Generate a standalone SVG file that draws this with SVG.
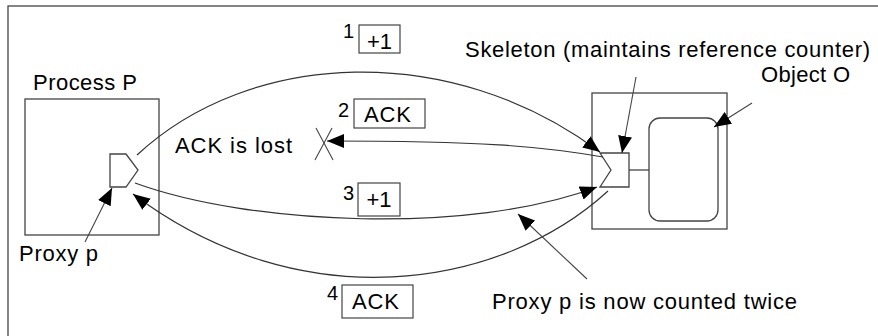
<svg xmlns="http://www.w3.org/2000/svg" width="878" height="336" viewBox="0 0 878 336">
<style>
text{font-family:"Liberation Sans",Arial,sans-serif;fill:#000}
.t{font-size:22px}
.s{font-size:20px}
.box{fill:none;stroke:#444;stroke-width:1.3}
.lb{fill:#fff;stroke:#444;stroke-width:1.2}
.c{fill:none;stroke:#333;stroke-width:1.2}
.a{fill:none;stroke:#444;stroke-width:1.1}
</style>
<defs>
<marker id="ah" markerUnits="userSpaceOnUse" markerWidth="19" markerHeight="15" refX="17" refY="7" orient="auto">
<path d="M0,0 L17,7 L0,14 z" fill="#000"/>
</marker>
</defs>
<rect x="8" y="6" width="900" height="400" fill="#fff" stroke="#444" stroke-width="1.3"/>
<g id="processP">
<rect class="box" x="25" y="99" width="134" height="136"/>
<text class="t" x="33" y="90" textLength="104">Process P</text>
</g>
<g id="proxy">
<polygon class="box" points="110,154 126,154 138,170 126,187 110,187"/>
<text class="t" x="19" y="261" textLength="79">Proxy p</text>
</g>
<g id="server">
<rect class="box" x="592" y="93" width="135" height="136"/>
</g>
<g id="skeleton">
<polygon class="box" points="600,153 629,153 629,187 600,187 611,170"/>
<line class="box" x1="629" y1="170" x2="649" y2="170"/>
<text class="t" x="465" y="57" textLength="405">Skeleton (maintains reference counter)</text>
</g>
<g id="objectO">
<rect class="box" x="649" y="118" width="69" height="103" rx="11"/>
<text class="t" x="761" y="82" textLength="89">Object O</text>
</g>
<g id="lbl1">
<text class="s" x="343" y="38">1</text>
<rect class="lb" x="359" y="25" width="41" height="28"/>
<text class="t" x="367" y="49">+1</text>
</g>
<g id="lbl2">
<text class="s" x="338" y="117">2</text>
<rect class="lb" x="354" y="99" width="71" height="29"/>
<text class="t" x="364" y="122" textLength="47">ACK</text>
</g>
<g id="lbl3">
<text class="s" x="343" y="200">3</text>
<rect class="lb" x="358" y="183" width="42" height="33"/>
<text class="t" x="366.5" y="207">+1</text>
</g>
<g id="lbl4">
<text class="s" x="327" y="300">4</text>
<rect class="lb" x="342" y="285" width="71" height="33"/>
<text class="t" x="352" y="309" textLength="47">ACK</text>
</g>
<g id="lost">
<text class="t" x="175" y="153" textLength="117">ACK is lost</text>
<line class="a" x1="316" y1="128" x2="333" y2="160"/>
<line class="a" x1="332" y1="128" x2="315" y2="160"/>
</g>
<text class="t" x="492" y="309" textLength="305">Proxy p is now counted twice</text>
<g id="connectors">
<path class="c" d="M137,155 C250,50 450,40 600,152" marker-end="url(#ah)"/>
<path class="c" d="M603,157 C540,146 480,141 327,141" marker-end="url(#ah)"/>
<path class="c" d="M135,183 C250,225 470,235 597,187" marker-end="url(#ah)"/>
<path class="c" d="M608,191 C500,290 300,320 133,194" marker-end="url(#ah)"/>
<line class="a" x1="636" y1="77" x2="622" y2="153" marker-end="url(#ah)"/>
<line class="a" x1="752" y1="103" x2="714" y2="127" marker-end="url(#ah)"/>
<line class="a" x1="85" y1="242" x2="112" y2="188" marker-end="url(#ah)"/>
<line class="a" x1="587" y1="279" x2="518" y2="214" marker-end="url(#ah)"/>
</g>
</svg>
